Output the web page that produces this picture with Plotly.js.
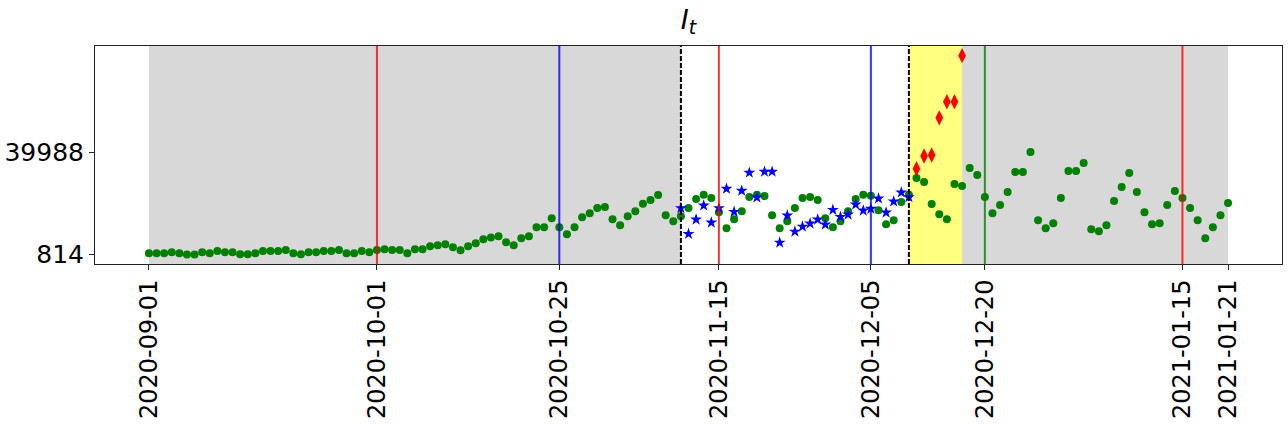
<!DOCTYPE html>
<html>
<head>
<meta charset="utf-8">
<script src="https://cdn.plot.ly/plotly-3.0.1.min.js"></script>
<style>
  body { margin: 0; background: #fff; }
  #chart { width: 1288px; height: 424px; }
</style>
</head>
<body>
<div id="chart"></div>
<script>
// observed series, one value per day from 2020-09-01
const observedStart = '2020-09-01';
const observed = [
  1263, 1263, 1263, 1647, 1263, 814, 814, 1647, 1263, 2158,
  1647, 1647, 879, 879, 1263, 2158, 2158, 2158, 2542, 1263,
  879, 1647, 1647, 2158, 2158, 2542, 1263, 1263, 2158, 1647,
  2542, 2850, 2542, 2542, 1275, 2811, 2811, 3963, 4347, 4731,
  3579, 2427, 3963, 5115, 6651, 7265, 7803, 5499, 4347, 7035,
  7803, 11259, 11259, 14715, 11259, 8571, 11259, 15099, 16635, 18555,
  18939, 14331, 12027, 15483, 17403, 20206, 21627, 23547, 15867, 13563,
  15483, 18555, 22011, 23662, 22395, 17019, 10875, 14331, 17403, 22779,
  23662, 23163, 15867, 10875, 13563, 18555, 22395, 22779, 21627, 14715,
  11259, 13563, 17403, 22011, 23662, 23278, 17787, 12411, 13947, 20859,
  23662, 30075, 28539, 20091, 16251, 14331, 27771, 27003, 33915, 31227,
  22779, 16635, 19707, 24699, 32379, 32379, 39988, 13947, 10875, 12795,
  22395, 32763, 32763, 35835, 10491, 9723, 12027, 21243, 26619, 31995,
  24699, 17019, 12411, 12795, 19707, 25083, 22395, 18555, 13947, 7035,
  11259, 15867, 20475
];

// in-sample fit, from 2020-11-10
const fitStart = '2020-11-10';
const fitted = [
  18555, 8686, 14178, 19553, 13026, 18555, 25966, 17134, 25198, 32110,
  22625, 32494, 32494, 5345, 15713, 9569, 11489, 12641, 14178, 12257,
  17902, 15214, 16097, 19937, 17633, 18286, 22241, 16865, 21089, 24545,
  22779
];

// forecast, from 2020-12-11
const forecastStart = '2020-12-11';
const forecast = [33646, 38523, 38907, 53115, 59259, 59259, 76923];

const tickDates = ['2020-09-01', '2020-10-01', '2020-10-25', '2020-11-15',
  '2020-12-05', '2020-12-20', '2021-01-15', '2021-01-21'];
const yTicks = [814, 39988];

const redLines = ['2020-10-01', '2020-11-15', '2021-01-15'];
const blueLines = ['2020-10-25', '2020-12-05'];
const greenLines = ['2020-12-20'];
const dashedLines = ['2020-11-10', '2020-12-10'];
const greySpans = [['2020-09-01', '2020-11-10'], ['2020-12-17', '2021-01-21']];
const yellowSpans = [['2020-12-10', '2020-12-17']];

function days(start, n) {
  const out = [];
  const d0 = new Date(start + 'T00:00:00Z');
  for (let i = 0; i < n; i++) {
    const d = new Date(d0.getTime() + i * 86400000);
    out.push(d.toISOString().slice(0, 10));
  }
  return out;
}

const traces = [
  {
    x: days(observedStart, observed.length), y: observed,
    mode: 'markers', type: 'scatter',
    marker: { color: '#008000', size: 8 }
  },
  {
    x: days(fitStart, fitted.length), y: fitted,
    mode: 'markers', type: 'scatter',
    marker: { color: '#0000ff', size: 9, symbol: 'star' }
  },
  {
    x: days(forecastStart, forecast.length), y: forecast,
    mode: 'markers', type: 'scatter',
    marker: { color: '#ff0000', size: 11, symbol: 'diamond-tall' }
  }
];

const shapes = [];
greySpans.forEach(s => shapes.push({
  type: 'rect', xref: 'x', yref: 'paper', x0: s[0], x1: s[1], y0: 0, y1: 1,
  fillcolor: '#d8d8d8', line: { width: 0 }, layer: 'below'
}));
yellowSpans.forEach(s => shapes.push({
  type: 'rect', xref: 'x', yref: 'paper', x0: s[0], x1: s[1], y0: 0, y1: 1,
  fillcolor: '#ffff80', line: { width: 0 }, layer: 'below'
}));
const vline = (d, color, dash) => shapes.push({
  type: 'line', xref: 'x', yref: 'paper', x0: d, x1: d, y0: 0, y1: 1,
  line: { color: color, width: 2, dash: dash || 'solid' }, layer: 'above'
});
redLines.forEach(d => vline(d, 'rgba(255,0,0,0.8)'));
blueLines.forEach(d => vline(d, 'rgba(0,0,255,0.8)'));
greenLines.forEach(d => vline(d, 'rgba(0,128,0,0.8)'));
dashedLines.forEach(d => vline(d, '#000000', '5px,2px'));

const layout = {
  width: 1288,
  height: 424,
  margin: { l: 95, r: 6, t: 46, b: 160 },
  paper_bgcolor: '#ffffff',
  plot_bgcolor: '#ffffff',
  showlegend: false,
  font: { family: 'DejaVu Sans', size: 24, color: '#000' },
  title: {
    text: '<i>I</i><sub><i>t</i></sub>',
    font: { family: 'DejaVu Sans', size: 27, color: '#000' },
    x: 0.5, xref: 'paper', xanchor: 'center',
    y: 0.955, yref: 'container', yanchor: 'middle'
  },
  xaxis: {
    type: 'date',
    range: ['2020-08-24 21:36', '2021-01-28 02:24'],
    tickmode: 'array',
    tickvals: tickDates,
    ticktext: tickDates,
    tickangle: -90,
    tickfont: { family: 'DejaVu Sans', size: 24, color: '#000' },
    ticks: 'outside', ticklen: 5, tickwidth: 1, tickcolor: '#222',
    showgrid: false, zeroline: false,
    showline: true, mirror: true, linecolor: '#222', linewidth: 1
  },
  yaxis: {
    range: [-2834, 80609],
    tickmode: 'array',
    tickvals: yTicks,
    ticktext: yTicks.map(String),
    tickfont: { family: 'DejaVu Sans', size: 25, color: '#000' },
    ticks: 'outside', ticklen: 5, tickwidth: 1, tickcolor: '#222',
    showgrid: false, zeroline: false,
    showline: true, mirror: true, linecolor: '#222', linewidth: 1
  },
  shapes: shapes
};

Plotly.newPlot('chart', traces, layout, { displayModeBar: false, staticPlot: true });
</script>
</body>
</html>
